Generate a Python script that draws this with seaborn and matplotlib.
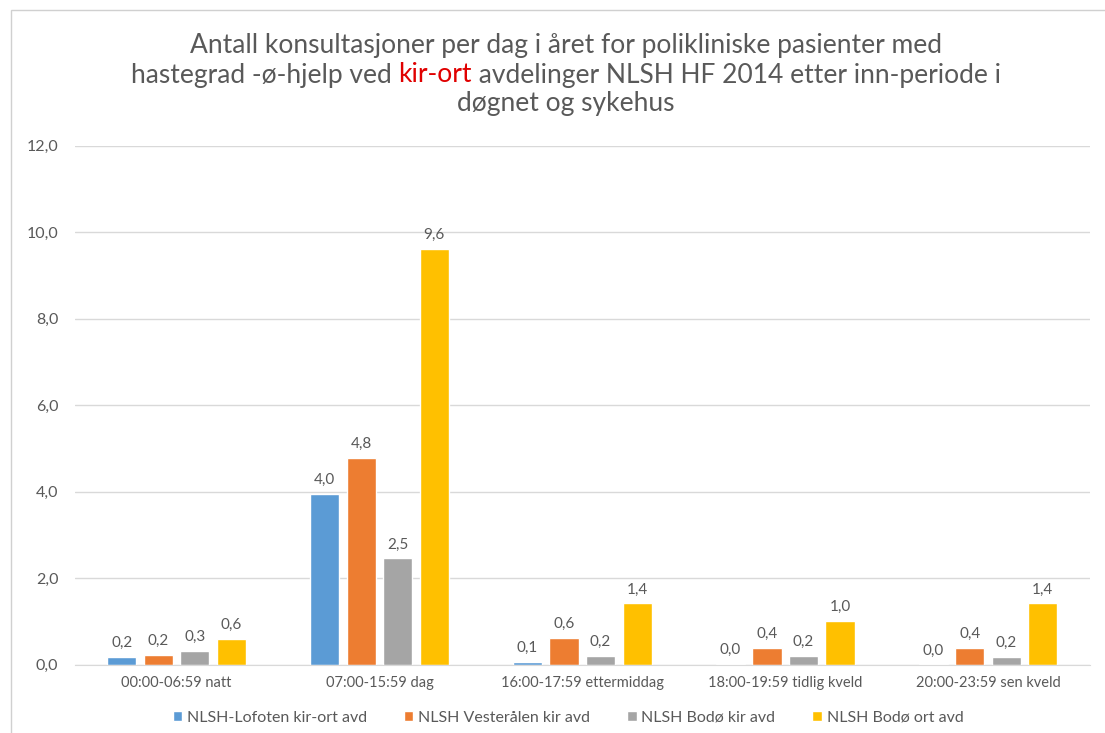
import matplotlib
matplotlib.use('Agg')
import matplotlib.pyplot as plt
import seaborn as sns
import pandas as pd
from matplotlib.patches import Rectangle

# Data
periods = ['00:00-06:59 natt', '07:00-15:59 dag', '16:00-17:59 ettermiddag',
           '18:00-19:59 tidlig kveld', '20:00-23:59 sen kveld']
units = ['NLSH-Lofoten kir-ort avd', 'NLSH Vesterålen kir avd',
         'NLSH Bodø kir avd', 'NLSH Bodø ort avd']
lofoten = [0.18, 3.96, 0.06, 0.03, 0.01]
vesteralen = [0.23, 4.78, 0.62, 0.40, 0.40]
bodo_kir = [0.33, 2.46, 0.20, 0.20, 0.18]
bodo_ort = [0.60, 9.62, 1.42, 1.02, 1.42]
y_ticks = [0, 2, 4, 6, 8, 10, 12]

colors = ['#5B9BD5', '#ED7D31', '#A5A5A5', '#FFC000']
text_gray = '#595959'

rows = []
for unit, vals in zip(units, [lofoten, vesteralen, bodo_kir, bodo_ort]):
    for p, v in zip(periods, vals):
        rows.append({'periode': p, 'avdeling': unit, 'antall': v})
df = pd.DataFrame(rows)

sns.set_style('white')
plt.rcParams['font.family'] = ['Lato', 'DejaVu Sans']

fig = plt.figure(figsize=(11.05, 7.33), dpi=100)
ax = fig.add_axes([0.068, 0.093, 0.918, 0.708])

sns.barplot(data=df, x='periode', y='antall', hue='avdeling', order=periods,
            hue_order=units, palette=colors, width=0.72, gap=0.2,
            saturation=1, ax=ax)

for cont in ax.containers:
    labs = [f"{b.get_height():.1f}".replace('.', ',') for b in cont]
    ax.bar_label(cont, labels=labs, padding=5, fontsize=11, color=text_gray)

ax.set_ylim(0, 12)
ax.set_yticks(y_ticks)
ax.set_yticklabels([f"{t:.1f}".replace('.', ',') for t in y_ticks])
ax.yaxis.grid(True, color='#d9d9d9', linewidth=1)
ax.set_axisbelow(True)
ax.set_xlabel('')
ax.set_ylabel('')
for s in ['top', 'right', 'left']:
    ax.spines[s].set_visible(False)
ax.spines['bottom'].set_color('#d9d9d9')
ax.tick_params(axis='both', length=0, labelsize=10.5, colors=text_gray)
ax.tick_params(axis='y', pad=12, labelsize=11.5)
ax.tick_params(axis='x', pad=8)

sns.move_legend(ax, 'upper center', bbox_to_anchor=(0.514, 0.05),
                bbox_transform=fig.transFigure, ncol=4, frameon=False,
                title=None, fontsize=11.5, handlelength=0.6, handleheight=0.6,
                handletextpad=0.3, columnspacing=2.3)
for t in ax.get_legend().get_texts():
    t.set_color(text_gray)

# border of the chart area
fig.patches.append(Rectangle((11 / 1105, -0.1), 1.2, 1 - 10 / 733 + 0.1,
                             transform=fig.transFigure, fill=False,
                             edgecolor='#d0d0d0', linewidth=1))

# title, with 'kir-ort' in red
title_size = 19
fig.text(0.512, 1 - 45 / 733, 'Antall konsultasjoner per dag i året for polikliniske pasienter med',
         ha='center', va='center', fontsize=title_size, color=text_gray)
fig.text(0.512, 1 - 104 / 733, 'døgnet og sykehus',
         ha='center', va='center', fontsize=title_size, color=text_gray)

parts = [('hastegrad -ø-hjelp ved ', text_gray), ('kir-ort', '#E00000'),
         (' avdelinger NLSH HF 2014 etter inn-periode i', text_gray)]
fig.canvas.draw()
renderer = fig.canvas.get_renderer()
pieces = []
for txt, col in parts:
    t = fig.text(0, 1 - 75 / 733, txt, ha='left', va='center',
                 fontsize=title_size, color=col)
    pieces.append(t)
# measure using full strings to keep spacing
full = ''.join(p[0] for p in parts)
tmp = fig.text(0, 0, full, fontsize=title_size)
total_w = tmp.get_window_extent(renderer).width / fig.bbox.width
tmp.remove()
x = 0.512 - total_w / 2
acc = ''
for t, (txt, col) in zip(pieces, parts):
    m = fig.text(0, 0, acc + 'X', fontsize=title_size)
    mx = fig.text(0, 0, 'X', fontsize=title_size)
    offset = (m.get_window_extent(renderer).width - mx.get_window_extent(renderer).width) / fig.bbox.width
    m.remove()
    mx.remove()
    t.set_x(x + offset)
    acc += txt

fig.savefig('out.png', dpi=100)
